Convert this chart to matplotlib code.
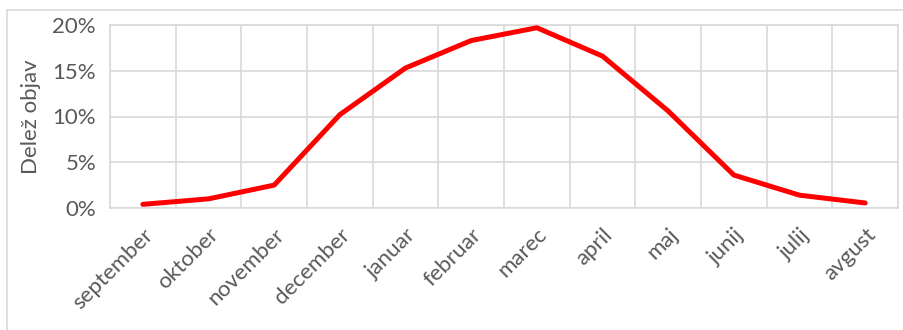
import numpy as np
import matplotlib.pyplot as plt
from matplotlib.patches import Rectangle
from matplotlib.ticker import PercentFormatter, MultipleLocator

# Podatki
meseci = ["september", "oktober", "november", "december", "januar", "februar",
          "marec", "april", "maj", "junij", "julij", "avgust"]
delez = [0.4, 1.0, 2.5, 10.2, 15.3, 18.3, 19.7, 16.6, 10.6, 3.6, 1.4, 0.55]

siva = "#595959"
mreza = "#D9D9D9"
plt.rcParams['font.family'] = ['Lato', 'DejaVu Sans']

fig = plt.figure(figsize=(9.04, 3.30), dpi=100)
ax = fig.add_axes([110/904, 1 - 208/330, 788/904, 183/330])

# okvir okrog grafa
fig.patches.append(Rectangle((7/904, -0.1), 1.0, 1.1 - 10/330, transform=fig.transFigure,
                             fill=False, edgecolor=mreza, linewidth=1.2))

x = np.arange(len(meseci))
ax.plot(x, delez, color="#FF0000", linewidth=3.6, solid_capstyle="round", zorder=3)

ax.set_xlim(-0.5, len(meseci) - 0.5)
ax.set_ylim(0, 20)
ax.yaxis.set_major_locator(MultipleLocator(5))
ax.yaxis.set_major_formatter(PercentFormatter(decimals=0))

ax.set_xticks(x)
ax.set_xticklabels(meseci, rotation=45, ha="right", rotation_mode="anchor")
ax.set_xticks(np.arange(-0.5, len(meseci)), minor=True)
ax.grid(True, which="minor", axis="x", color=mreza, linewidth=1.2)
ax.grid(True, which="major", axis="y", color=mreza, linewidth=1.2)
ax.tick_params(axis="both", which="both", length=0, colors=siva, labelsize=16)
ax.tick_params(axis="x", pad=12)
ax.tick_params(axis="y", pad=10)
for s in ax.spines.values():
    s.set_color(mreza)
    s.set_linewidth(1.2)

ax.set_ylabel("Delež objav", color=siva, fontsize=16, labelpad=8)

fig.savefig("out.png", dpi=100)
